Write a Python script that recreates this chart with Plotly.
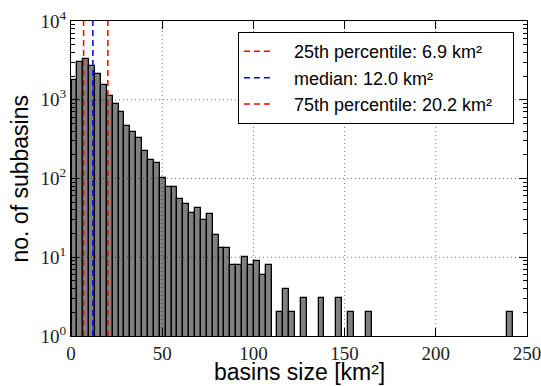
import plotly.graph_objects as go

# ---- data ----
bin_start = 0.3
bin_width = 3.225
counts = [1790, 3060, 3280, 2700, 2130, 1535, 1100, 880, 708, 470,
          391, 325, 226, 171, 156, 101, 77, 77, 55, 47,
          37, 42, 30, 35, 19, 13, 13, 8, 8, 10,
          8, 9, 6, 8, 0, 2, 4, 2, 0, 3,
          0, 0, 3, 0, 0, 3, 0, 2, 0, 0,
          2, 0, 0, 0, 0, 0, 0, 0, 0, 0,
          0, 0, 0, 0, 0, 0, 0, 0, 0, 0,
          0, 0, 0, 0, 2]
pct_names = ["25th percentile: 6.9 km²", "median: 12.0 km²", "75th percentile: 20.2 km²"]
pct_values = [6.9, 12.0, 20.2]
pct_colors = ["#ff0000", "#0000ff", "#ff0000"]
x_ticks = [0, 50, 100, 150, 200, 250]
y_ticks = [1, 10, 100, 1000, 10000]
y_ticktext = ["10<sup>0</sup>", "10<sup>1</sup>", "10<sup>2</sup>", "10<sup>3</sup>", "10<sup>4</sup>"]

centers = [bin_start + (i + 0.5) * bin_width for i in range(len(counts))]
yvals = [c if c > 0 else None for c in counts]
minor_vals = [m * d for d in (1, 10, 100, 1000) for m in range(2, 10)]

fig = go.Figure()
fig.add_trace(go.Bar(x=centers, y=yvals, width=bin_width,
                     marker=dict(color="#808080", line=dict(color="black", width=1.3)),
                     showlegend=False, hoverinfo="skip"))

pad = "\u00a0\u00a0\u00a0"
for name, v, col in zip(pct_names, pct_values, pct_colors):
    fig.add_trace(go.Scatter(x=[v, v], y=[1, 10000], mode="lines",
                             name=pad + name + pad,
                             line=dict(color=col, width=1.5, dash="6px,4px")))

# grid drawn above bars
grid_style = dict(color="rgba(0,0,0,0.55)", width=1, dash="1px,3px")
for xv in x_ticks[1:-1]:
    fig.add_shape(type="line", xref="x", yref="y domain", x0=xv, x1=xv, y0=0, y1=1,
                  line=grid_style, layer="above")
for k in range(1, 4):
    fig.add_shape(type="line", xref="x domain", yref="y domain", x0=0, x1=1,
                  y0=k / 4, y1=k / 4, line=grid_style, layer="above")

serif = "Liberation Serif, DejaVu Serif, serif"
sans = "Liberation Sans, Arial, sans-serif"

fig.update_layout(
    width=541, height=386,
    margin=dict(l=71, r=14, t=21, b=50, autoexpand=False),
    plot_bgcolor="white", paper_bgcolor="white",
    bargap=0,
    xaxis=dict(range=[0, 250], tickvals=x_ticks, ticktext=[str(t) for t in x_ticks],
               ticks="inside", ticklen=8, tickcolor="black", mirror="allticks",
               showline=True, linecolor="black", linewidth=1, showgrid=False, zeroline=False,
               automargin=False, ticklabeloverflow="allow",
               tickfont=dict(family=serif, size=19, color="#222")),
    yaxis=dict(type="log", range=[0, 4], tickvals=y_ticks, ticktext=y_ticktext,
               ticks="inside", ticklen=8, tickcolor="black", mirror="allticks",
               minor=dict(tickmode="array", tickvals=minor_vals, ticks="inside", ticklen=4,
                          tickcolor="black", showgrid=False),
               showline=True, linecolor="black", linewidth=1, showgrid=False, zeroline=False,
               automargin=False, ticklabeloverflow="allow",
               tickfont=dict(family=serif, size=19, color="#222")),
    legend=dict(x=0.366, y=0.965, xanchor="left", yanchor="top",
                bordercolor="black", borderwidth=1, bgcolor="white",
                font=dict(family=sans, size=18, color="black"), itemwidth=30),
    annotations=[
        dict(text="no. of subbasins", xref="paper", yref="paper", x=-0.114, y=0.5,
             textangle=-90, showarrow=False, xanchor="center", yanchor="middle",
             font=dict(family=sans, size=23, color="black")),
        dict(text="basins size [km²]", xref="paper", yref="paper", x=0.5, y=-0.113,
             showarrow=False, xanchor="center", yanchor="middle",
             font=dict(family=sans, size=23, color="black")),
    ],
)

fig.write_html("out.html", config={"displayModeBar": False},
               post_script="document.body.style.margin='0';document.body.style.padding='0';")
